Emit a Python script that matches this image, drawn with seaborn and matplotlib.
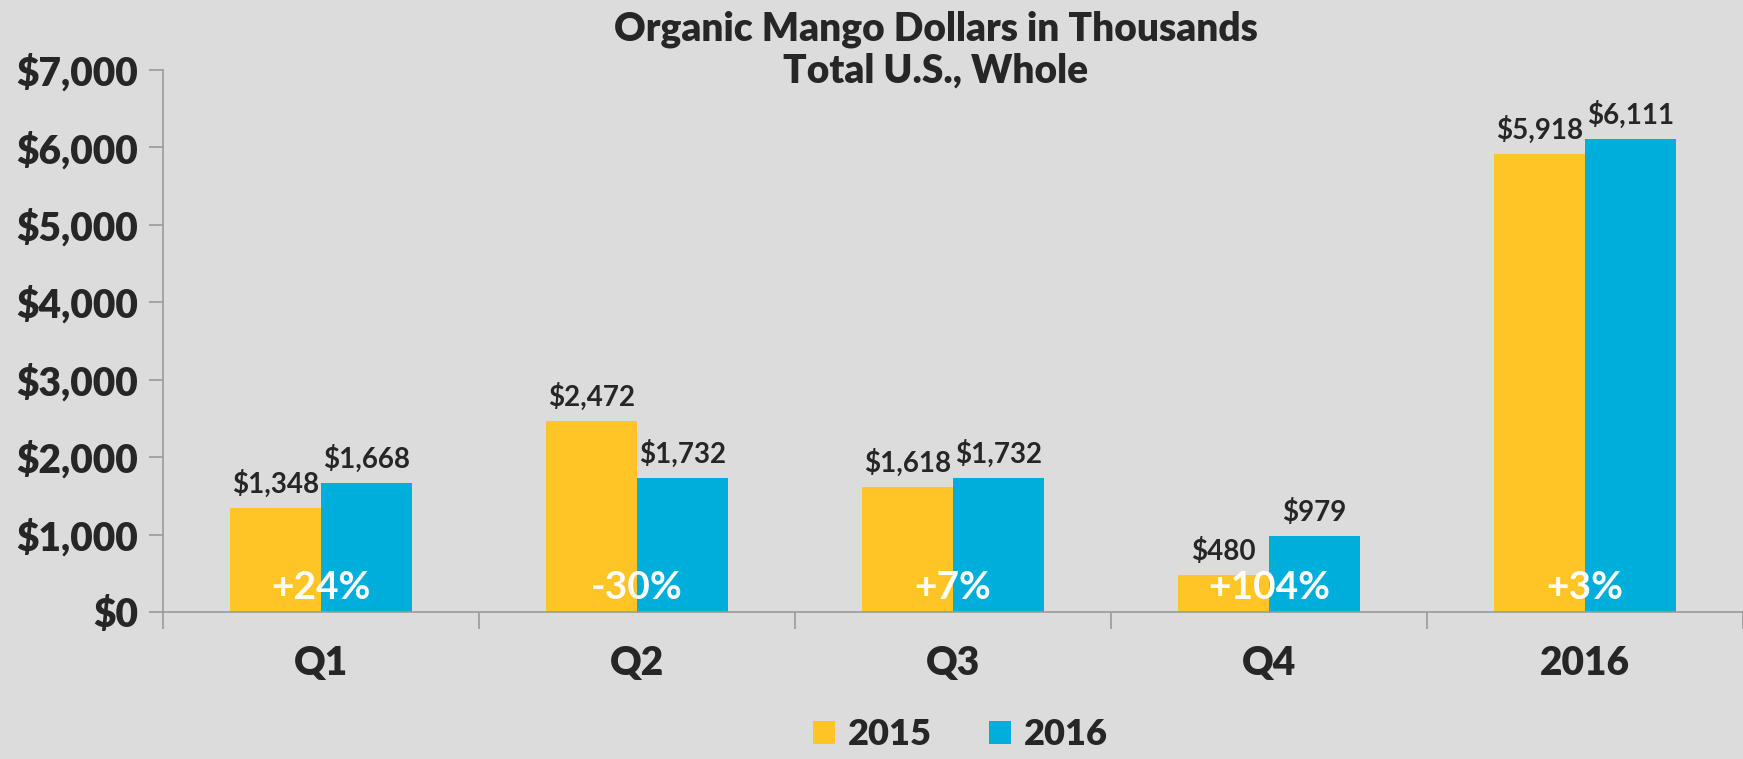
import pandas as pd
import numpy as np
import seaborn as sns
import matplotlib.pyplot as plt
from matplotlib.patches import Patch

# Organic mango dollars (thousands), total U.S., whole
categories = ['Q1', 'Q2', 'Q3', 'Q4', '2016']
years = ['2015', '2016']
dollars_2015 = [1348, 2472, 1618, 480, 5918]
dollars_2016 = [1668, 1732, 1732, 979, 6111]
change_labels = ['+24%', '-30%', '+7%', '+104%', '+3%']
y_ticks = [0, 1000, 2000, 3000, 4000, 5000, 6000, 7000]

colors = ['#FFC425', '#00AEDB']
bg = '#DCDCDC'
txt = '#262626'

df = pd.DataFrame({
    'period': categories * 2,
    'year': [years[0]] * len(categories) + [years[1]] * len(categories),
    'dollars': dollars_2015 + dollars_2016,
})

sns.set_style('white')
plt.rcParams['font.family'] = ['Lato', 'DejaVu Sans']

fig = plt.figure(figsize=(17.43, 7.59), dpi=100, facecolor=bg)
ax = fig.add_axes([0.0935, 0.1937, 0.9065, 0.7141])
ax.set_facecolor(bg)

sns.barplot(data=df, x='period', y='dollars', hue='year', palette=colors,
            width=0.575, saturation=1, legend=False, linewidth=0,
            edgecolor='none', ax=ax)

for cont in ax.containers:
    ax.bar_label(cont, labels=['$%s' % format(int(v), ',') for v in cont.datavalues],
                 padding=7, fontsize=20, fontweight='bold', color=txt)

for i, lab in enumerate(change_labels):
    ax.text(i, 320, lab, ha='center', va='center', fontsize=28,
            fontweight='bold', color='white')

ax.set_ylim(0, 7000)
ax.set_xlim(-0.5, len(categories) - 0.5)
ax.set_yticks(y_ticks)
ax.set_yticklabels(['$%s' % format(v, ',') for v in y_ticks])
ax.set_xticks(range(len(categories)))
ax.set_xticklabels(categories)
ax.set_xticks(np.arange(-0.5, len(categories), 1), minor=True)
ax.tick_params(axis='y', which='major', length=10, width=1.2, color='#9A9A9A',
               labelsize=28, labelcolor=txt, pad=8, left=True)
ax.tick_params(axis='x', which='major', length=0, labelsize=28,
               labelcolor=txt, pad=24)
ax.tick_params(axis='x', which='minor', length=12, width=1.2, color='#9A9A9A',
               bottom=True)
for lbl in ax.get_yticklabels() + ax.get_xticklabels():
    lbl.set_fontweight('heavy')

ax.set_xlabel('')
ax.set_ylabel('')
sns.despine(ax=ax, top=True, right=True)
for side in ['left', 'bottom']:
    ax.spines[side].set_color('#9A9A9A')
    ax.spines[side].set_linewidth(1.2)

fig.text(0.537, 0.962, 'Organic Mango Dollars in Thousands', ha='center',
         va='center', fontsize=28, fontweight='heavy', color=txt)
fig.text(0.537, 0.906, 'Total U.S., Whole', ha='center', va='center',
         fontsize=28, fontweight='heavy', color=txt)

handles = [Patch(facecolor=c, edgecolor='none') for c in colors]
fig.legend(handles, years, loc='center', bbox_to_anchor=(0.551, 0.032),
           ncol=2, frameon=False, prop={'size': 26, 'weight': 'heavy'},
           handlelength=0.6, handleheight=0.6, handletextpad=0.35,
           columnspacing=1.6, labelcolor=txt, borderpad=0.1)

fig.savefig('out.png', dpi=100, facecolor=bg)
